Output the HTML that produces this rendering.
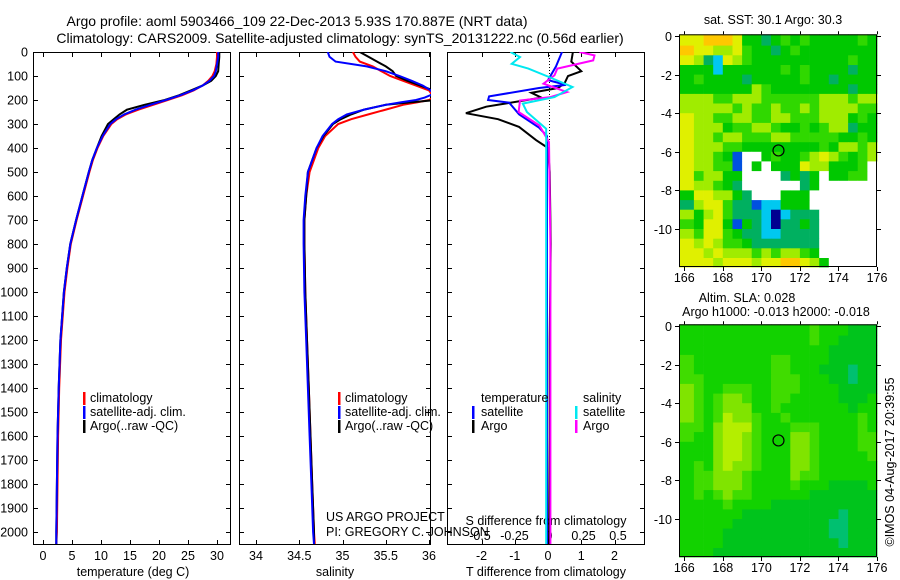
<!DOCTYPE html>
<html><head><meta charset="utf-8">
<style>
html,body{margin:0;padding:0;background:#fff;}
svg{display:block;font-family:"Liberation Sans",sans-serif;}
text{font-size:12.5px;fill:#000;}
</style></head>
<body>
<svg id="fig" width="900" height="580" viewBox="0 0 900 580" xmlns="http://www.w3.org/2000/svg">
<rect width="900" height="580" fill="#fff"/>
<text x="297" y="26" text-anchor="middle" style="font-size:14px">Argo profile: aoml 5903466_109 22-Dec-2013 5.93S 170.887E (NRT data)</text>
<text x="340" y="43" text-anchor="middle" style="font-size:14px">Climatology: CARS2009. Satellite-adjusted climatology: synTS_20131222.nc (0.56d earlier)</text>
<g id="g"></g>
</svg>
<script>
// ---------- profile data ----------
const tDepths = [0,20,50,80,100,120,140,160,180,200,220,240,260,280,300,350,400,450,500,600,700,800,900,1000,1200,1400,1600,1800,2000,2050];
const tClim = [30.0,30.0,29.9,29.6,29.2,28.5,27.5,26,24,21.5,19,16.5,14.3,12.8,11.8,10.4,9.4,8.6,8.0,6.9,5.8,4.8,4.2,3.7,3.1,2.8,2.6,2.5,2.4,2.3];
const tSat = [30.2,30.2,30.0,29.8,29.5,28.7,27.5,25.8,23.7,21.2,18.5,16,14,12.6,11.6,10.3,9.3,8.5,7.9,6.8,5.7,4.7,4.1,3.6,3.0,2.7,2.5,2.4,2.3,2.3];
const tArgo = [30.4,30.4,30.3,30.2,29.8,29,27.5,25.5,23.5,21,17.5,14.5,13.2,12.2,11.2,10.1,9.3,8.5,7.9,6.8,5.7,4.7,4.1,3.6,3.0,2.7,2.5,2.4,2.3,2.3];
const sDepths = [0,20,40,60,80,100,120,140,160,175,190,200,210,220,240,260,280,300,350,400,500,600,700,800,1000,1200,1400,1600,1800,2000,2050];
const sClim = [35.12,35.15,35.2,35.35,35.45,35.55,35.7,35.85,36.0,36.03,36.05,36.0,35.86,35.7,35.5,35.3,35.1,34.95,34.8,34.72,34.62,34.58,34.56,34.56,34.57,34.59,34.61,34.63,34.65,34.67,34.68];
const sSat = [34.83,34.85,34.92,35.28,35.5,35.66,35.8,35.93,36.02,36.05,35.95,35.85,35.67,35.5,35.25,35.05,34.95,34.88,34.77,34.7,34.6,34.57,34.55,34.55,34.56,34.58,34.6,34.62,34.64,34.66,34.67];
const sArgo = [35.2,35.3,35.4,35.5,35.58,35.62,35.75,35.9,36.05,36.1,36.1,36.08,35.78,35.5,35.25,35.1,34.98,34.89,34.78,34.7,34.6,34.58,34.56,34.56,34.57,34.59,34.61,34.63,34.65,34.67,34.67];
const dTsatD = [0,60,117,137,150,185,200,211,260,315,350,500,1000,1500,2050];
const dTsat = [0.42,0.24,0,0.54,-0.27,-1.77,-1.8,-1.17,-0.87,-0.27,-0.03,-0.03,-0.03,-0.03,-0.03];
const dTargoD = [0,40,80,100,130,150,170,190,228,255,280,312,367,400,500,800,1200,1600,2050];
const dTargo = [0.75,0.7,1.0,0.6,0.5,0.3,-0.5,-0.2,-1.86,-2.47,-1.5,-0.87,-0.36,0,0.05,0.08,0.05,0.05,0.03];
const dSargoD = [0,14,35,69,97,132,167,188,202,250,306,375,800,1500,2050];
const dSargo = [0.22,0.33,0.32,0.06,0.04,-0.04,0.13,0.01,-0.21,-0.22,-0.07,0,0.01,0.01,0.01];
const dSsatD = [0,21,49,69,104,146,188,215,250,320,500,1000,2050];
const dSsat = [-0.28,-0.21,-0.27,-0.15,0,0.17,0.04,-0.19,-0.16,-0.02,-0.02,-0.02,-0.02];
const depthTicks = [0,100,200,300,400,500,600,700,800,900,1000,1100,1200,1300,1400,1500,1600,1700,1800,1900,2000];
const tTicks = [0,5,10,15,20,25,30];
const sTicks = [34,34.5,35,35.5,36];
const sTickLabels = ["34","34.5","35","35.5","36"];
const dTTicks = [-2,-1,0,1,2];
const dSTicks = [-0.5,-0.25,0,0.25,0.5];
const dSTickLabels = ["-0.5","-0.25","0","0.25","0.5"];
// ---------- map data (half-degree cells, rows from 0 to -12 lat, cols 166..176 lon) ----------
const sstRows = [
"88999855456565555565","98877865545655555555","87438765555555555655","55535555556565555455",
"56555545555565545555","55555557655555555455","77766777666666777677","77777676676676777766",
"87766776677666777565","87775667765565677455","87767766677666665565","87776655555555657767",
"87765200565567876567","87766205055587755560","86775500004545055660","87765400000045000000",
"58877540005550000000","47886442335550000000","75786444313444000000","65885254314454000000",
"76886544334444000000","87876654444444000000","88787776767765000000","88878887889987500000"];
const slaRows = [
"cccccccccccccdcccbbb","cccccccccccccdccbbbb","cccccccccccccccbbbbb","dccccccccddccccbbbbb",
"dccccccccddcccbbbabb","ddcccccccdddcccbbabb","edccdddccdddccccbbbb","edcdeedccddcccccbbbc",
"edcdeeeccdcccccccbcc","edcdfeedccdcccccccdc","ddcefffdcccdddccccdc","dcceffedccceedccccdd",
"ccceffedccceedccccdd","ccceffedccceedcccccd","cdcefeedccceedcccccc","cddeeedcccceddcccccc",
"cddeeedccccdcccbbbbc","cdcdeddccccccbbbbbbb","ccccdccccbbbbbbbbbbb","ccccccbbbbbbbbbbabbb",
"cccccbbbbbbbbbbaabbb","ccccbbbbbbbbbbbaabbb","ccccbbbbbbbbbbbbabbb","cccbbbbbbbbbbbbbbbbb"];
const latTicks = [0,-2,-4,-6,-8,-10];
const lonTicks = [166,168,170,172,174,176];
const argoLon = 170.887, argoLat = -5.93;

const NS="http://www.w3.org/2000/svg";
const G=document.getElementById('g');
function el(tag,attrs,parent){const e=document.createElementNS(NS,tag);for(const k in attrs)e.setAttribute(k,attrs[k]);(parent||G).appendChild(e);return e;}
function txt(s,x,y,anchor,parent,name){const t=el('text',{x:x,y:y,'text-anchor':anchor||'start'},parent);t.textContent=s;


return t;}

const TOP=52,BOT=545,DPX=0.24;
const yD=d=>TOP+d*DPX;
const panels=[
 {x0:33,x1:231,name:'temperature-panel'},
 {x0:239,x1:431,name:'salinity-panel'},
 {x0:447,x1:645,name:'difference-panel'}];
const xT=v=>43+v*5.8;
const xS=v=>256+(v-34)*86.5;
const xDT=v=>548+v*33.25;
const xDS=v=>549+v*138;

const defs=el('defs',{});
panels.forEach((p,i)=>{
 const cp=el('clipPath',{id:'cp'+i},defs);
 el('rect',{x:p.x0,y:TOP,width:p.x1-p.x0,height:BOT-TOP},cp);
});

function axisBox(p,i){
 const g=el('g',{});
 
 
 el('rect',{x:p.x0+0.5,y:TOP+0.5,width:p.x1-p.x0-1,height:BOT-TOP-1,fill:'none',stroke:'#000','stroke-width':1},g);
 depthTicks.forEach(d=>{
  const y=yD(d)+0.5;
  el('line',{x1:p.x0,x2:p.x0+5,y1:y,y2:y,stroke:'#000'},g);
  el('line',{x1:p.x1-5,x2:p.x1,y1:y,y2:y,stroke:'#000'},g);
 });
 return g;
}
function xticks(g,ticks,fx,labels,name){
 ticks.forEach((v,i)=>{
  const x=Math.round(fx(v))+0.5;
  el('line',{x1:x,x2:x,y1:BOT-5,y2:BOT,stroke:'#000'},g);
  el('line',{x1:x,x2:x,y1:TOP,y2:TOP+5,stroke:'#000'},g);
  txt(labels?labels[i]:String(v),fx(v),560,'middle',g,name);
 });
}
function profile(depths,vals,fx,color,i,name,w){
 const pts=depths.map((d,k)=>fx(vals[k]).toFixed(1)+','+yD(d).toFixed(1)).join(' ');
 const pl=el('polyline',{points:pts,fill:'none',stroke:color,'stroke-width':w||2,'clip-path':'url(#cp'+i+')'});
 
 
}

// panel 1
let g1=axisBox(panels[0],0);
depthTicks.forEach(d=>txt(String(d),28,yD(d)+4.5,'end',g1,'depth-tick-label'));
xticks(g1,tTicks,xT,null,'temperature-tick-label');
txt('temperature (deg C)',133,576,'middle',g1,'x-axis-title-temperature');
profile(tDepths,tClim,xT,'#ff0000',0,'temperature-climatology-line');
profile(tDepths,tArgo,xT,'#000000',0,'temperature-argo-line');
profile(tDepths,tSat,xT,'#0000ff',0,'temperature-satellite-line');

// panel 2
let g2=axisBox(panels[1],1);
xticks(g2,sTicks,xS,sTickLabels,'salinity-tick-label');
txt('salinity',335,576,'middle',g2,'x-axis-title-salinity');
profile(sDepths,sClim,xS,'#ff0000',1,'salinity-climatology-line');
profile(sDepths,sArgo,xS,'#000000',1,'salinity-argo-line');
profile(sDepths,sSat,xS,'#0000ff',1,'salinity-satellite-line');

// panel 3
let g3=axisBox(panels[2],2);
xticks(g3,dTTicks,xDT,null,'t-diff-tick-label');
const zl=el('line',{x1:549.5,x2:549.5,y1:TOP,y2:yD(420),stroke:'#000','stroke-dasharray':'1,2'},g3);


txt('T difference from climatology',546,576,'middle',g3,'x-axis-title-t-diff');
txt('S difference from climatology',546,525,'middle',g3,'s-diff-axis-title');
dSTicks.forEach((v,i)=>txt(dSTickLabels[i],xDS(v),540,'middle',g3,'s-diff-tick-label'));
profile(dTargoD,dTargo,xDT,'#000000',2,'t-diff-argo-line');
profile(dTsatD,dTsat,xDT,'#0000ff',2,'t-diff-satellite-line');
profile(dSargoD,dSargo,xDS,'#ff00ff',2,'s-diff-argo-line');
profile(dSsatD,dSsat,xDS,'#00e8f0',2,'s-diff-satellite-line');

// legends
function legItem(mx,tx,y,color,label,name){
 const g=el('g',{});
 
 
 el('rect',{x:mx,y:y-10,width:2.5,height:13,fill:color},g);
 txt(label,tx,y,'start',g,name+'-text');
}
legItem(83,90,402,'#ff0000','climatology','legend-climatology');
legItem(83,90,416,'#0000ff','satellite-adj. clim.','legend-satellite-adj');
legItem(83,90,430,'#000000','Argo(..raw -QC)','legend-argo');
legItem(338,345,402,'#ff0000','climatology','legend2-climatology');
legItem(338,345,416,'#0000ff','satellite-adj. clim.','legend2-satellite-adj');
legItem(338,345,430,'#000000','Argo(..raw -QC)','legend2-argo');
txt('temperature',481,402,'start',G,'legend-temperature-header');
txt('salinity',583,402,'start',G,'legend-salinity-header');
legItem(472,481,416,'#0000ff','satellite','legend-t-satellite');
legItem(472,481,430,'#000000','Argo','legend-t-argo');
legItem(575,583,416,'#00e8f0','satellite','legend-s-satellite');
legItem(575,583,430,'#ff00ff','Argo','legend-s-argo');
txt('US ARGO PROJECT',326,521,'start',G,'project-credit');
txt('PI: GREGORY C. JOHNSON',326,536,'start',G,'pi-credit');

// maps
const sstPal={'0':'#ffffff','1':'#000090','2':'#0050e0','3':'#00c8f0','4':'#00b060','5':'#00c800','6':'#30d800','7':'#a0ec00','8':'#e0f000','9':'#ffc800'};
const slaPal={'a':'#00c070','b':'#00c41c','c':'#12d200','d':'#40dc00','e':'#80e400','f':'#b4ee00'};
const MX0=679,MX1=877;
const xL=lon=>684.3+(lon-166)*19.27;
function drawMap(rows,pal,ytop,y0,ybot,name,titles){
 const g=el('g',{});
 
 
 const yL=lat=>y0+(-lat)*19.3;
 rows.forEach((row,r)=>{
  for(let c=0;c<row.length;c++){
   const lonA=166+c*0.5, lonB=lonA+0.5;
   const latA=-r*0.5, latB=latA-0.5;
   const xa=c===0?MX0:xL(lonA), xb=c===row.length-1?MX1:xL(lonB);
   const ya=r===0?ytop:yL(latA), yb=r===rows.length-1?ybot:yL(latB);
   const rc=el('rect',{x:xa.toFixed(1),y:ya.toFixed(1),width:(xb-xa+0.4).toFixed(1),height:(yb-ya+0.4).toFixed(1),fill:pal[row[c]]},g);
   
   
  }
 });
 el('rect',{x:MX0+0.5,y:ytop+0.5,width:MX1-MX0-1,height:ybot-ytop-1,fill:'none',stroke:'#000'},g);
 latTicks.forEach(l=>{
  const y=Math.round(yL(l))+0.5;
  el('line',{x1:MX0-4,x2:MX0,y1:y,y2:y,stroke:'#000'},g);
  el('line',{x1:MX1,x2:MX1+4,y1:y,y2:y,stroke:'#000'},g);
  txt(String(l),672,y+4.5,'end',g,'lat-tick-label');
 });
 lonTicks.forEach(l=>{
  const x=Math.round(xL(l))+0.5;
  el('line',{x1:x,x2:x,y1:ytop-3,y2:ytop,stroke:'#000'},g);
  el('line',{x1:x,x2:x,y1:ybot,y2:ybot+4,stroke:'#000'},g);
  txt(String(l),xL(l),ybot+15,'middle',g,'lon-tick-label');
 });
 const ci=el('circle',{cx:xL(argoLon),cy:yL(argoLat),r:5.5,fill:'none',stroke:'#000','stroke-width':1.2},g);
 
 
 titles.forEach(t=>txt(t[0],t[1],t[2],'middle',g,'map-title'));
}
drawMap(sstRows,sstPal,34.3,36,267,'sst-map',[['sat. SST: 30.1 Argo: 30.3',773,24]]);
drawMap(slaRows,slaPal,324.3,326,557,'sla-map',[['Altim. SLA: 0.028',747,302],['Argo h1000: -0.013 h2000: -0.018',776,316]]);
const rt=txt('©IMOS 04-Aug-2017 20:39:55',0,0,'middle',G,'imos-timestamp');
rt.setAttribute('transform','translate(894,462) rotate(-90)');
</script>
</body></html>
